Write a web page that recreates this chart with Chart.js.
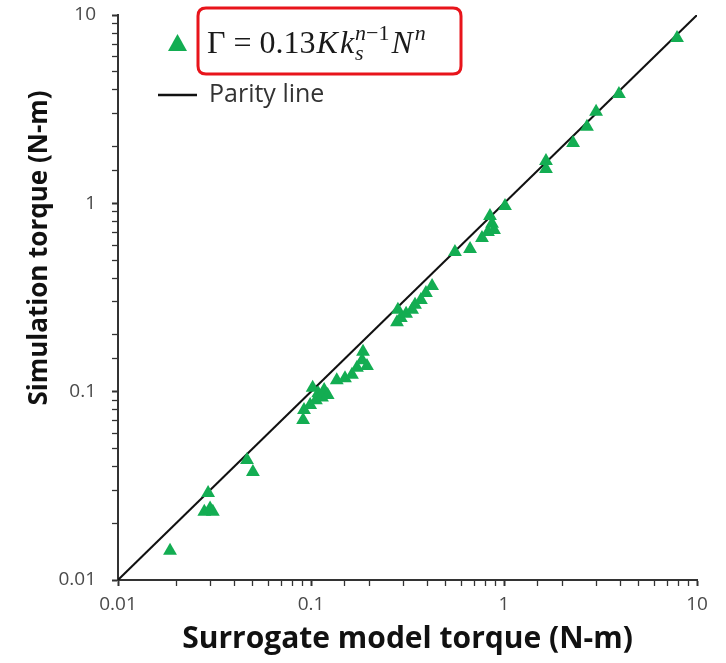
<!DOCTYPE html>
<html>
<head>
<meta charset="utf-8">
<script src="https://cdn.jsdelivr.net/npm/chart.js@4"></script>
<style>
  html, body { margin: 0; padding: 0; background: #ffffff; }
  #wrap { width: 726px; height: 663px; }
</style>
</head>
<body>
<div id="wrap"><canvas id="torqueChart" width="726" height="663"></canvas></div>
<script>
// Surrogate model torque (N-m), x values
const surrogateTorque = [
  0.0186, 0.0293, 0.028, 0.030, 0.031, 0.0466, 0.050,
  0.091, 0.092, 0.099, 0.102, 0.106, 0.109, 0.114, 0.117, 0.122,
  0.136, 0.150, 0.163, 0.173, 0.184, 0.186, 0.195,
  0.279, 0.282, 0.292, 0.311, 0.334, 0.346, 0.371, 0.394, 0.424,
  0.557, 0.667, 0.769, 0.826, 0.846, 0.867, 0.888, 1.012,
  1.65, 1.65, 2.28, 2.69, 3.0, 3.94, 7.88
];

// Simulation torque (N-m), y values
const simulationTorque = [
  0.0143, 0.029, 0.023, 0.024, 0.023, 0.0434, 0.0375,
  0.0708, 0.080, 0.085, 0.105, 0.090, 0.098, 0.093, 0.102, 0.096,
  0.115, 0.118, 0.123, 0.134, 0.147, 0.163, 0.137,
  0.234, 0.272, 0.246, 0.259, 0.272, 0.289, 0.307, 0.334, 0.364,
  0.552, 0.573, 0.655, 0.705, 0.857, 0.778, 0.722, 0.969,
  1.52, 1.68, 2.09, 2.55, 3.06, 3.81, 7.56
];

// Parity line end points
const parityLine = [0.01, 10];

// Labelled decades on both axes
const tickValues = [0.01, 0.1, 1, 10];
const tickLabels = ["0.01", "0.1", "1", "10"];

// Axis titles
const xTitle = "Surrogate model torque (N-m)";
const yTitle = "Simulation torque (N-m)";

// Colors
const markerGreen = "#13ad52";
const axisColor = "#333333";
const labelColor = "#4a4a4a";

// Scatter points built from the two arrays
let scatterPoints = [];
for (let i = 0; i < surrogateTorque.length; i++) {
  scatterPoints.push({ x: surrogateTorque[i], y: simulationTorque[i] });
}

// Parity line points
let parityPoints = parityLine.map(function (v) {
  return { x: v, y: v };
});

// Only decades get a text label
function decadeLabel(value) {
  for (let i = 0; i < tickValues.length; i++) {
    if (Math.abs(value - tickValues[i]) < tickValues[i] * 1e-6) return tickLabels[i];
  }
  return "";
}

function isDecade(value) {
  return decadeLabel(value) !== "";
}

/**
 * Draws the model formula piece by piece: upright and italic parts,
 * with the k subscript and superscript stacked on the same x.
 */
function drawFormula(ctx, x, y, size) {
  const serif = '"Liberation Serif", "DejaVu Serif", serif';
  const big = size + "px " + serif;
  const bigIt = "italic " + size + "px " + serif;
  const smallSize = Math.round(size * 0.68);
  const small = smallSize + "px " + serif;
  const smallIt = "italic " + smallSize + "px " + serif;
  const supY = y - size * 0.4;
  const subY = y + size * 0.22;

  ctx.save();
  ctx.fillStyle = "#1a1a1a";
  ctx.textBaseline = "alphabetic";
  ctx.textAlign = "left";
  let cx = x;

  // write one piece and move the pen
  function put(text, font, py) {
    ctx.font = font;
    ctx.fillText(text, cx, py);
    cx += ctx.measureText(text).width;
  }

  put("\u0393", big, y);
  put(" = ", big, y);
  put("0.13", big, y);
  cx += 1;
  put("K", bigIt, y);
  cx += 2;
  put("k", bigIt, y);

  // stacked superscript n-1 and subscript s
  const stackX = cx + 1;
  cx = stackX;
  put("n", smallIt, supY);
  put("\u22121", small, supY);
  const supEnd = cx;
  cx = stackX;
  put("s", smallIt, subY);
  cx = Math.max(cx, supEnd) + 2;

  put("N", bigIt, y);
  cx += 2;
  put("n", smallIt, supY);
  ctx.restore();
}

// Rounded rectangle outline
function roundRect(ctx, x, y, w, h, r) {
  ctx.beginPath();
  ctx.moveTo(x + r, y);
  ctx.lineTo(x + w - r, y);
  ctx.quadraticCurveTo(x + w, y, x + w, y + r);
  ctx.lineTo(x + w, y + h - r);
  ctx.quadraticCurveTo(x + w, y + h, x + w - r, y + h);
  ctx.lineTo(x + r, y + h);
  ctx.quadraticCurveTo(x, y + h, x, y + h - r);
  ctx.lineTo(x, y + r);
  ctx.quadraticCurveTo(x, y, x + r, y);
  ctx.closePath();
}

// Legend in the top left corner and the rotated y title
const legendPlugin = {
  id: "formulaLegend",
  afterDraw(chart) {
    const ctx = chart.ctx;
    ctx.save();

    // green triangle marker
    ctx.fillStyle = markerGreen;
    ctx.beginPath();
    ctx.moveTo(177.5, 34);
    ctx.lineTo(187, 51);
    ctx.lineTo(168, 51);
    ctx.closePath();
    ctx.fill();

    // formula text
    drawFormula(ctx, 207, 53, 32);

    // red highlight box
    ctx.strokeStyle = "#e8141b";
    ctx.lineWidth = 3;
    roundRect(ctx, 198, 8, 263, 66, 8);
    ctx.stroke();

    // parity line sample
    ctx.strokeStyle = "#111111";
    ctx.lineWidth = 2.5;
    ctx.beginPath();
    ctx.moveTo(158, 95);
    ctx.lineTo(197, 95);
    ctx.stroke();

    ctx.fillStyle = "#333333";
    ctx.font = '25px "Open Sans", sans-serif';
    ctx.textBaseline = "middle";
    ctx.fillText("Parity line", 209, 95);

    // y axis title, sits a little above the plot middle
    ctx.translate(40, 248);
    ctx.rotate(-Math.PI / 2);
    ctx.fillStyle = "#111111";
    ctx.font = 'bold 26px "Open Sans", sans-serif';
    ctx.textAlign = "center";
    ctx.textBaseline = "middle";
    ctx.fillText(yTitle, 0, 0);

    ctx.restore();
  }
};

const canvas = document.getElementById("torqueChart");
const ctx = canvas.getContext("2d");

const chart = new Chart(ctx, {
  type: "scatter",
  data: {
    datasets: [
      {
        label: "Parity line",
        data: parityPoints,
        showLine: true,
        borderColor: "#111111",
        borderWidth: 2,
        pointRadius: 0,
        order: 2
      },
      {
        label: "Surrogate",
        data: scatterPoints,
        pointStyle: "triangle",
        pointRadius: 8,
        pointBackgroundColor: markerGreen,
        pointBorderColor: markerGreen,
        pointBorderWidth: 0,
        order: 1
      }
    ]
  },
  options: {
    responsive: false,
    animation: false,
    events: [],
    layout: {
      padding: { top: 15, right: 29, left: 0, bottom: 0 }
    },
    plugins: {
      legend: { display: false },
      tooltip: { enabled: false }
    },
    scales: {
      x: {
        type: "logarithmic",
        min: 0.01,
        max: 10,
        afterFit: function (scale) {
          scale.height = 83;
          scale.paddingLeft = 0;
          scale.paddingRight = 0;
        },
        border: { color: axisColor, width: 2 },
        grid: {
          drawOnChartArea: false,
          drawTicks: true,
          tickLength: 6,
          tickColor: axisColor,
          tickWidth: function (c) {
            return c.tick && isDecade(c.tick.value) ? 2 : 1.3;
          }
        },
        ticks: {
          autoSkip: false,
          maxRotation: 0,
          padding: 7,
          color: labelColor,
          font: { family: "Open Sans", size: 19 },
          callback: function (value) {
            return decadeLabel(value);
          }
        },
        title: {
          display: true,
          text: xTitle,
          color: "#111111",
          font: { family: "Open Sans", size: 30, weight: "bold" },
          padding: { top: 0, bottom: 6 }
        }
      },
      y: {
        type: "logarithmic",
        min: 0.01,
        max: 10,
        afterFit: function (scale) {
          // fixed width, and no extra room above for the top label
          scale.width = 118;
          scale.paddingTop = 0;
          scale.paddingBottom = 0;
        },
        border: { color: axisColor, width: 2 },
        grid: {
          drawOnChartArea: false,
          drawTicks: true,
          tickLength: 6,
          tickColor: axisColor,
          tickWidth: function (c) {
            return c.tick && isDecade(c.tick.value) ? 2 : 1.3;
          }
        },
        ticks: {
          autoSkip: false,
          padding: 16,
          color: labelColor,
          font: { family: "Open Sans", size: 19 },
          callback: function (value) {
            return decadeLabel(value);
          }
        },
        title: { display: false }
      }
    }
  },
  plugins: [legendPlugin]
});
</script>
</body>
</html>
